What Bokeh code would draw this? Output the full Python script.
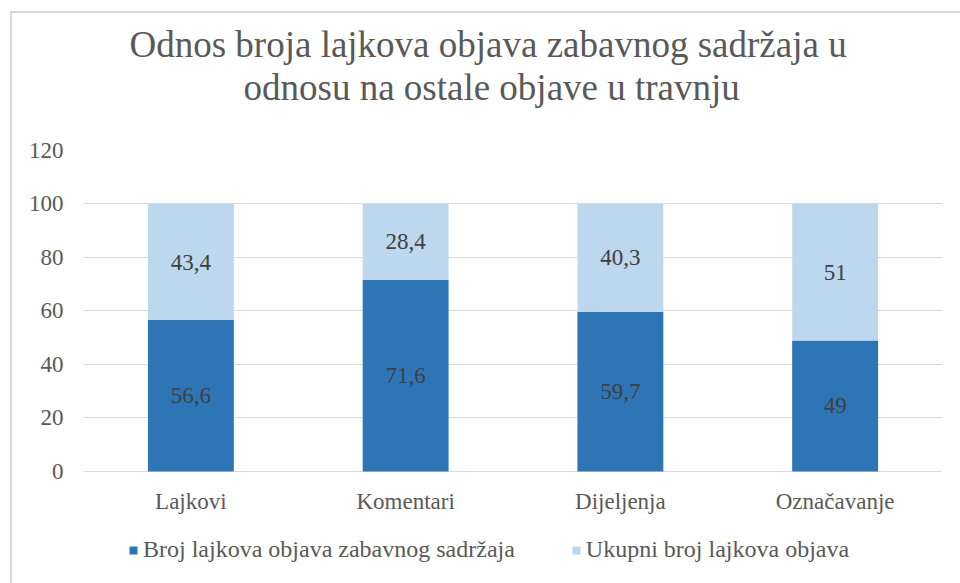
from bokeh.plotting import figure
from bokeh.models import (ColumnDataSource, LabelSet, Legend, LegendItem, Title,
                          FactorRange, Range1d, FixedTicker, Div, Spacer)
from bokeh.layouts import column, row
from bokeh.embed import file_html
from bokeh.resources import INLINE

categories = ["Lajkovi", "Komentari", "Dijeljenja", "Označavanje"]
zabavni = [56.6, 71.6, 59.7, 49]
ukupni = [43.4, 28.4, 40.3, 51]
zabavni_labels = ["56,6", "71,6", "59,7", "49"]
ukupni_labels = ["43,4", "28,4", "40,3", "51"]
series_names = ["Broj lajkova objava zabavnog sadržaja", "Ukupni broj lajkova objava"]
y_ticks = [0, 20, 40, 60, 80, 100, 120]
title_lines = ["Odnos broja lajkova objava zabavnog sadržaja u",
               "odnosu na ostale objave u travnju"]

DARK = "#2E75B6"
LIGHT = "#BDD7EE"
TXT = "#595959"
GRID = "#D9D9D9"
FONT = "Liberation Serif"

source = ColumnDataSource(dict(
    cat=categories,
    zabavni=zabavni,
    ukupni=ukupni,
    zl=zabavni_labels,
    ul=ukupni_labels,
    zy=[z / 2 for z in zabavni],
    uy=[z + u / 2 for z, u in zip(zabavni, ukupni)],
))

# frame extends below zero to hold axis labels and legend (lower bound chosen for layout)
p = figure(x_range=FactorRange(*categories, range_padding=0), y_range=Range1d(-41.9, 120),
           width=948, height=570, output_backend="svg", toolbar_location=None,
           min_border_left=71, min_border_right=18, min_border_bottom=0,
           min_border_top=137)

renderers = p.vbar_stack(["zabavni", "ukupni"], x="cat", width=0.4, color=[DARK, LIGHT],
                         line_color=None, source=source)

p.add_layout(LabelSet(x="cat", y="zy", text="zl", source=source, text_align="center",
                      text_baseline="middle", text_font=FONT, text_font_size="23px",
                      text_color="#404040"))
p.add_layout(LabelSet(x="cat", y="uy", text="ul", source=source, text_align="center",
                      text_baseline="middle", text_font=FONT, text_font_size="23px",
                      text_color="#404040"))

# empty spacer title between frame and the two title lines
p.add_layout(Title(text=" ", text_font=FONT, text_font_size="37px", standoff=0), "above")
title_offsets = [46, 160]
for line, off in reversed(list(zip(title_lines, title_offsets))):
    p.add_layout(Title(text=line, align="left", offset=off, text_font=FONT,
                       text_font_size="37px", text_font_style="normal",
                       text_line_height=0.92, text_color=TXT, standoff=0), "above")

p.outline_line_color = None
p.xgrid.grid_line_color = None
p.ygrid.grid_line_color = GRID
p.ygrid.grid_line_width = 1
p.yaxis.ticker = FixedTicker(ticks=y_ticks)
p.xaxis.fixed_location = 0
for ax in (p.xaxis[0], p.yaxis[0]):
    ax.axis_line_color = None
    ax.major_tick_line_color = None
    ax.minor_tick_line_color = None
    ax.major_label_text_font = FONT
    ax.major_label_text_font_size = "23px"
    ax.major_label_text_color = TXT
p.yaxis.major_label_standoff = 14
p.xaxis.major_label_standoff = 12

legend = Legend(items=[LegendItem(label=series_names[0], renderers=[renderers[0]]),
                       LegendItem(label=series_names[1], renderers=[renderers[1]])],
                orientation="horizontal", location=(45, 20), margin=0, padding=0,
                label_text_font=FONT, label_text_font_size="24px", label_text_color=TXT,
                glyph_width=10, glyph_height=10, label_standoff=5, spacing=56,
                border_line_color=None, background_fill_alpha=0)
p.add_layout(legend)

top_line = Div(width=950, height=2, margin=0, styles={"background-color": GRID})
left_line = Div(width=2, height=570, margin=0, styles={"background-color": GRID})
layout = column(Spacer(width=960, height=11, margin=0),
                row(Spacer(width=10, height=572, margin=0),
                    column(top_line, row(left_line, p, spacing=0), spacing=0),
                    spacing=0),
                spacing=0)

open("out.html", "w").write(file_html(layout, INLINE))
